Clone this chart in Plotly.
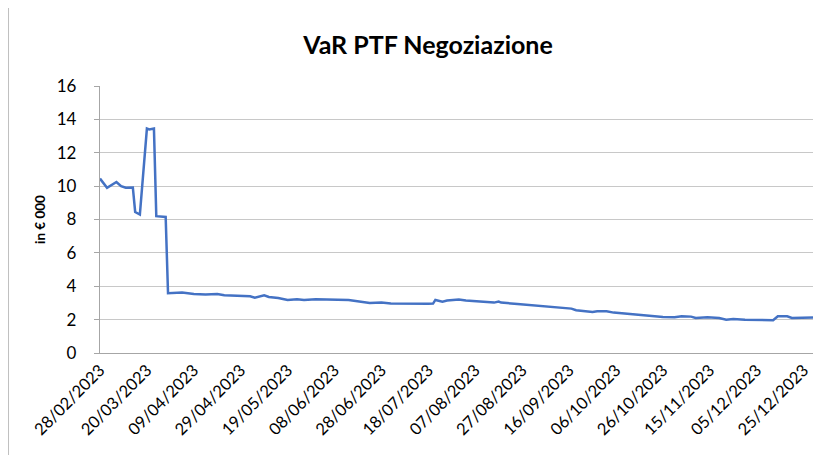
import plotly.graph_objects as go

dates = [
    "2023-02-28", "2023-03-03", "2023-03-07", "2023-03-09", "2023-03-11", "2023-03-14",
    "2023-03-15", "2023-03-17", "2023-03-20", "2023-03-21", "2023-03-23", "2023-03-24",
    "2023-03-28", "2023-03-29", "2023-04-04", "2023-04-06", "2023-04-09", "2023-04-14",
    "2023-04-19", "2023-04-22", "2023-05-03", "2023-05-05", "2023-05-09", "2023-05-11",
    "2023-05-15", "2023-05-19", "2023-05-23", "2023-05-26", "2023-05-31", "2023-06-14",
    "2023-06-20", "2023-06-23", "2023-06-28", "2023-07-02", "2023-07-18", "2023-07-20",
    "2023-07-21", "2023-07-24", "2023-07-26", "2023-07-31", "2023-08-03", "2023-08-10",
    "2023-08-15", "2023-08-17", "2023-08-18", "2023-08-25", "2023-08-31", "2023-09-05",
    "2023-09-12", "2023-09-17", "2023-09-19", "2023-09-26", "2023-09-28", "2023-10-02",
    "2023-10-05", "2023-10-12", "2023-10-19", "2023-10-26", "2023-10-31", "2023-11-03",
    "2023-11-07", "2023-11-09", "2023-11-14", "2023-11-19", "2023-11-22", "2023-11-25",
    "2023-11-30", "2023-12-12", "2023-12-14", "2023-12-18", "2023-12-20", "2023-12-29",
]
var_values = [
    10.45, 9.9, 10.25, 10.0, 9.9, 9.92,
    8.45, 8.3, 13.45, 13.4, 13.45, 8.2,
    8.15, 3.58, 3.62, 3.58, 3.54, 3.5,
    3.54, 3.46, 3.4, 3.32, 3.46, 3.36,
    3.3, 3.18, 3.22, 3.18, 3.22, 3.18,
    3.04, 3.0, 3.02, 2.96, 2.95, 2.96,
    3.18, 3.08, 3.14, 3.2, 3.14, 3.06,
    3.02, 3.08, 3.02, 2.94, 2.86, 2.8,
    2.72, 2.66, 2.56, 2.46, 2.5, 2.5,
    2.42, 2.32, 2.24, 2.16, 2.14, 2.2,
    2.18, 2.1, 2.14, 2.1, 2.0, 2.04,
    2.0, 1.96, 2.2, 2.2, 2.1, 2.12,
]

tick_dates = [
    "2023-02-28", "2023-03-20", "2023-04-09", "2023-04-29", "2023-05-19", "2023-06-08",
    "2023-06-28", "2023-07-18", "2023-08-07", "2023-08-27", "2023-09-16", "2023-10-06",
    "2023-10-26", "2023-11-15", "2023-12-05", "2023-12-25",
]
tick_labels = [
    "28/02/2023", "20/03/2023", "09/04/2023", "29/04/2023", "19/05/2023", "08/06/2023",
    "28/06/2023", "18/07/2023", "07/08/2023", "27/08/2023", "16/09/2023", "06/10/2023",
    "26/10/2023", "15/11/2023", "05/12/2023", "25/12/2023",
]
y_ticks = [0, 2, 4, 6, 8, 10, 12, 14, 16]

fig = go.Figure()
fig.add_trace(go.Scatter(
    x=dates, y=var_values, mode="lines",
    line=dict(color="#4472C4", width=2.5),
    showlegend=False, hoverinfo="x+y",
))

font_family = "Lato, 'Open Sans', Arial, sans-serif"

fig.update_layout(
    width=834, height=455,
    margin=dict(l=92, r=29, t=78, b=110),
    paper_bgcolor="white", plot_bgcolor="white",
    font=dict(family=font_family, color="#000000"),
    title=dict(
        text="<b>VaR PTF Negoziazione</b>",
        x=0.5036, xanchor="center", y=0.919, yanchor="middle",
        font=dict(size=25, family=font_family, color="#000000"),
    ),
    xaxis=dict(
        type="date",
        range=["2023-02-28", "2023-12-29"],
        tickvals=tick_dates, ticktext=tick_labels,
        tickangle=-45,
        tickfont=dict(size=16.5, family=font_family, color="#000000"),
        showgrid=False,
        showline=True, linecolor="#a6a6a6", linewidth=1.3,
        ticks="", zeroline=False, automargin=False,
    ),
    yaxis=dict(
        range=[0, 16],
        tickvals=y_ticks,
        tickfont=dict(size=17, family=font_family, color="#000000"),
        showgrid=True, gridcolor="#c8c8c8", gridwidth=1.3,
        showline=True, linecolor="#a6a6a6", linewidth=1.3,
        ticks="outside", ticklen=5, tickcolor="#a6a6a6",
        ticklabelstandoff=14,
        zeroline=False, automargin=False,
        title=dict(text="<b>in € 000</b>", font=dict(size=13.5, family=font_family, color="#000000"), standoff=7),
    ),
    shapes=[
        dict(type="line", xref="paper", yref="paper",
             x0=-0.1283, x1=-0.1283, y0=-0.5, y1=1.5,
             line=dict(color="#bfbfbf", width=1)),
    ],
)

fig.write_html("out.html")
